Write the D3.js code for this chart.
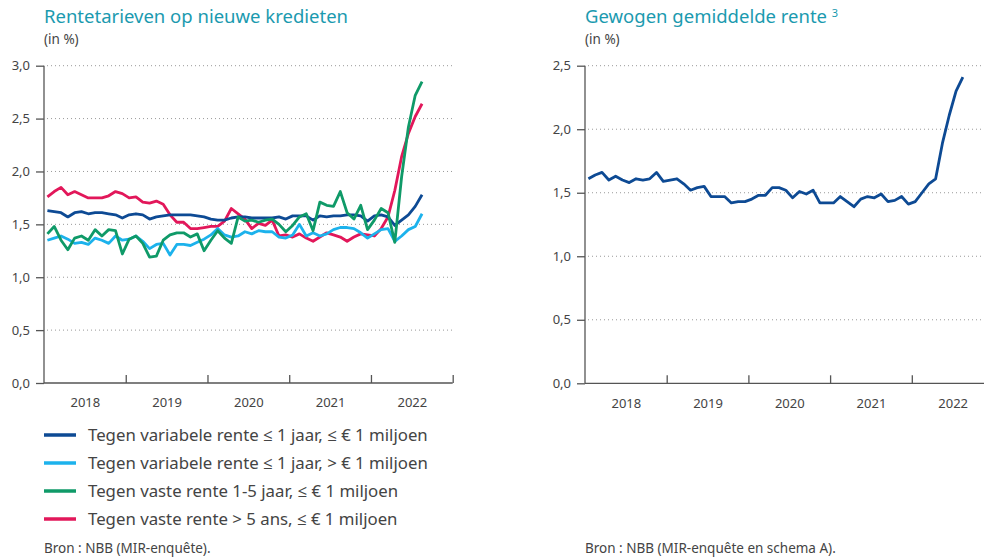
<!DOCTYPE html>
<meta charset="utf-8">
<style>
  body { margin: 0; background: #fff; }
  svg { font-family: "Noto Sans", "Open Sans", sans-serif; }
  .title { fill: #1b9aaf; font-size: 18.5px; }
  .unit { fill: #444; font-size: 13.5px; }
  .domain, .tick line { stroke: #555; stroke-width: 1.3; }
  .grid { stroke: #999; stroke-width: 1; stroke-dasharray: 1,3; }
  .legend text { fill: #444; font-size: 16.8px; }
  .source { fill: #444; font-size: 13.5px; }
</style>
<body>
<svg width="984" height="558"></svg>
<script src="https://d3js.org/d3.v7.min.js"></script>
<script>
// maandelijkse reeksen, januari 2018 t/m augustus 2022
var years = ["2018", "2019", "2020", "2021", "2022"];
var leftTicks = [0, 0.5, 1, 1.5, 2, 2.5, 3];
var rightTicks = [0, 0.5, 1, 1.5, 2, 2.5];

var varSmall = [1.63,1.62,1.61,1.57,1.61,1.62,1.60,1.61,1.61,1.60,1.59,1.56,1.59,1.60,1.59,1.55,1.57,1.58,1.59,1.59,1.59,1.59,1.58,1.57,1.55,1.54,1.54,1.56,1.57,1.57,1.56,1.56,1.56,1.56,1.57,1.55,1.58,1.58,1.58,1.54,1.58,1.57,1.58,1.58,1.59,1.59,1.58,1.53,1.58,1.59,1.57,1.49,1.54,1.59,1.67,1.78];
var varLarge = [1.35,1.37,1.39,1.36,1.32,1.33,1.31,1.37,1.35,1.32,1.39,1.35,1.36,1.39,1.34,1.27,1.31,1.32,1.21,1.31,1.31,1.30,1.33,1.36,1.40,1.46,1.40,1.38,1.39,1.43,1.41,1.44,1.43,1.43,1.38,1.37,1.40,1.50,1.39,1.42,1.39,1.41,1.45,1.47,1.47,1.46,1.42,1.37,1.41,1.45,1.46,1.34,1.39,1.45,1.48,1.60];
var fixed15 = [1.41,1.48,1.35,1.26,1.37,1.39,1.35,1.45,1.39,1.45,1.44,1.22,1.36,1.39,1.32,1.19,1.20,1.35,1.40,1.42,1.42,1.38,1.41,1.25,1.35,1.44,1.37,1.32,1.57,1.53,1.54,1.52,1.54,1.55,1.50,1.43,1.49,1.57,1.60,1.44,1.71,1.68,1.67,1.81,1.61,1.55,1.68,1.45,1.54,1.65,1.61,1.33,1.95,2.42,2.72,2.85];
var fixed5 = [1.76,1.81,1.85,1.78,1.81,1.78,1.75,1.75,1.75,1.77,1.81,1.79,1.75,1.76,1.71,1.70,1.72,1.69,1.59,1.52,1.52,1.46,1.46,1.47,1.48,1.48,1.53,1.65,1.60,1.55,1.46,1.51,1.49,1.54,1.39,1.40,1.38,1.41,1.37,1.34,1.38,1.42,1.40,1.38,1.34,1.38,1.41,1.40,1.39,1.46,1.57,1.82,2.14,2.36,2.52,2.64];
var weighted = [1.61,1.64,1.66,1.60,1.63,1.60,1.58,1.61,1.60,1.61,1.66,1.59,1.60,1.61,1.57,1.52,1.54,1.55,1.47,1.47,1.47,1.42,1.43,1.43,1.45,1.48,1.48,1.54,1.54,1.52,1.46,1.51,1.49,1.52,1.42,1.42,1.42,1.47,1.43,1.39,1.45,1.47,1.46,1.49,1.43,1.44,1.47,1.41,1.43,1.50,1.57,1.61,1.89,2.11,2.30,2.41];

var leftSeries = [
  { name: "Tegen variabele rente \u2264 1 jaar, \u2264 \u20ac 1 miljoen", color: "#0d4a94", values: varSmall },
  { name: "Tegen variabele rente \u2264 1 jaar, > \u20ac 1 miljoen", color: "#1cb2ec", values: varLarge },
  { name: "Tegen vaste rente 1-5 jaar, \u2264 \u20ac 1 miljoen", color: "#0f9a68", values: fixed15 },
  { name: "Tegen vaste rente > 5 ans, \u2264 \u20ac 1 miljoen", color: "#e2175a", values: fixed5 }
];
// volgorde van tekenen zoals in origineel
var drawOrder = [3, 0, 1, 2];

var svg = d3.select("svg");
var fmt = function(d) { return d3.format(".1f")(d).replace(".", ","); };

function styleTicks(a) {
  a.attr("font-size", null).attr("font-family", null);
  a.selectAll(".tick text").attr("fill", "#444").style("font-size", "13px");
}

function panel(x0, x1, y0, y1, maxY, ticks) {
  var g = svg.append("g");
  var x = d3.scaleLinear().domain([0, years.length * 12]).range([x0, x1]);
  var y = d3.scaleLinear().domain([0, maxY]).range([y0, y1]);

  g.selectAll(".grid").data(ticks.filter(function(d) { return d > 0; }))
    .enter().append("line")
    .attr("class", "grid")
    .attr("x1", x0 + 3).attr("x2", x1)
    .attr("y1", function(d) { return y(d); })
    .attr("y2", function(d) { return y(d); });

  g.append("g")
    .attr("transform", "translate(" + x0 + ",0)")
    .call(d3.axisLeft(y).tickValues(ticks).tickSize(8).tickPadding(6).tickFormat(fmt))
    .call(styleTicks)
    .call(function(a) { a.select(".domain").attr("d", "M0," + y0 + "V" + y1); });

  // jaargrenzen
  g.append("g")
    .attr("transform", "translate(0," + y0 + ")")
    .call(d3.axisBottom(x).tickValues(d3.range(1, years.length + 1).map(function(i) { return i * 12; }))
      .tickSize(-8).tickFormat(""))
    .call(function(a) { a.select(".domain").attr("d", "M" + x0 + ",0H" + x1); });

  // jaarlabels
  g.append("g")
    .attr("transform", "translate(0," + y0 + ")")
    .call(d3.axisBottom(x).tickValues(years.map(function(d, i) { return i * 12 + 6; }))
      .tickSize(0).tickPadding(15).tickFormat(function(d) { return years[(d - 6) / 12]; }))
    .call(styleTicks)
    .call(function(a) { a.select(".domain").remove(); });

  return { g: g, x: x, y: y };
}

function drawLine(p, values, color) {
  var line = d3.line()
    .x(function(d, i) { return p.x(i + 0.5); })
    .y(function(d) { return p.y(d); });
  p.g.append("path")
    .datum(values)
    .attr("fill", "none")
    .attr("stroke", color)
    .attr("stroke-width", 2.8)
    .attr("stroke-linejoin", "round")
    .attr("d", line);
}

// linker grafiek
var left = panel(44, 452.7, 383, 65.7, 3, leftTicks);
drawOrder.forEach(function(k) { drawLine(left, leftSeries[k].values, leftSeries[k].color); });

svg.append("text").attr("class", "title").attr("x", 44).attr("y", 23).text("Rentetarieven op nieuwe kredieten");
svg.append("text").attr("class", "unit").attr("x", 44).attr("y", 44).text("(in %)");

// rechter grafiek
var right = panel(585, 993.5, 383.3, 65.7, 2.5, rightTicks);
drawLine(right, weighted, "#0d4a94");

var rt = svg.append("text").attr("class", "title").attr("x", 585).attr("y", 23).text("Gewogen gemiddelde rente ");
rt.append("tspan").attr("font-size", "11px").attr("dy", -6).text("3");
svg.append("text").attr("class", "unit").attr("x", 585).attr("y", 44).text("(in %)");

// legenda
var lg = svg.append("g").attr("class", "legend");
var li = lg.selectAll("g").data(leftSeries).enter().append("g")
  .attr("transform", function(d, i) { return "translate(44," + (435 + i * 28) + ")"; });
li.append("line").attr("x1", 0).attr("x2", 32)
  .attr("stroke", function(d) { return d.color; }).attr("stroke-width", 3.5);
li.append("text").attr("x", 44).attr("dy", "0.35em").text(function(d) { return d.name; });

svg.append("text").attr("class", "source").attr("x", 44).attr("y", 553).text("Bron : NBB (MIR-enqu\u00eate).");
svg.append("text").attr("class", "source").attr("x", 585).attr("y", 553).text("Bron : NBB (MIR-enqu\u00eate en schema A).");
</script>
</body>
